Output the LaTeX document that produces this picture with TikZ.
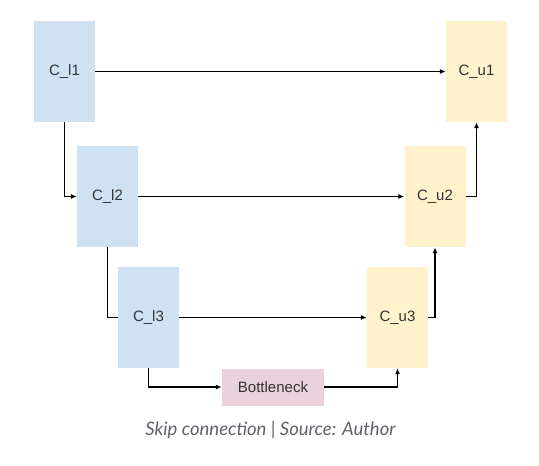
\documentclass[tikz,border=0pt]{standalone}
\usepackage{fontspec}
\setmainfont{Liberation Sans}
\newfontfamily\capfont{Lato}
\usetikzlibrary{arrows.meta}
\definecolor{lblue}{HTML}{CFE2F3}
\definecolor{lyellow}{HTML}{FFF2CC}
\definecolor{lpink}{HTML}{EAD1DC}
\definecolor{txt}{HTML}{333333}
\definecolor{captxt}{HTML}{5F6368}
\begin{document}
\begin{tikzpicture}[x=1pt,y=-1pt,
  block/.style={draw=none,minimum width=61pt,minimum height=101pt,inner sep=0pt,font=\fontsize{15}{17}\selectfont,text=txt},
  enc/.style={block,fill=lblue},
  dec/.style={block,fill=lyellow},
  bn/.style={draw=none,fill=lpink,minimum width=102pt,minimum height=37pt,inner sep=0pt,font=\fontsize{15}{17}\selectfont,text=txt},
  conn/.style={line width=1.2pt,-{Latex[length=6pt,width=5pt]}},
  plain/.style={line width=1.2pt}]
\useasboundingbox (0,0) rectangle (539,466);
\node[enc] (l1) at (64.5,71.5) {C\_l1};
\node[enc] (l2) at (107.5,196.5) {C\_l2};
\node[enc] (l3) at (148.5,317.5) {C\_l3};
\node[dec] (u1) at (476.5,71.5) {C\_u1};
\node[dec] (u2) at (435,196.5) {C\_u2};
\node[dec] (u3) at (397.5,317.5) {C\_u3};
\node[bn] (b) at (273,387) {Bottleneck};
\draw[conn] (l1.east) -- (u1.west);
\draw[conn] (l2.east) -- (u2.west);
\draw[conn] (l3.east) -- (u3.west);
\draw[conn] (l1.south) |- (l2.west);
\draw[plain] (l2.south) |- (l3.west);
\draw[conn] (l3.south) |- (b.west);
\draw[conn] (b.east) -| (u3.south);
\draw[conn] (u3.east) -| (u2.south);
\draw[conn] (u2.east) -| (u1.south);
\node[font=\capfont\itshape\fontsize{18.5}{20}\selectfont,text=captxt] (cap) at (270.5,430) {Skip connection | Source: Author};
\end{tikzpicture}
\end{document}
